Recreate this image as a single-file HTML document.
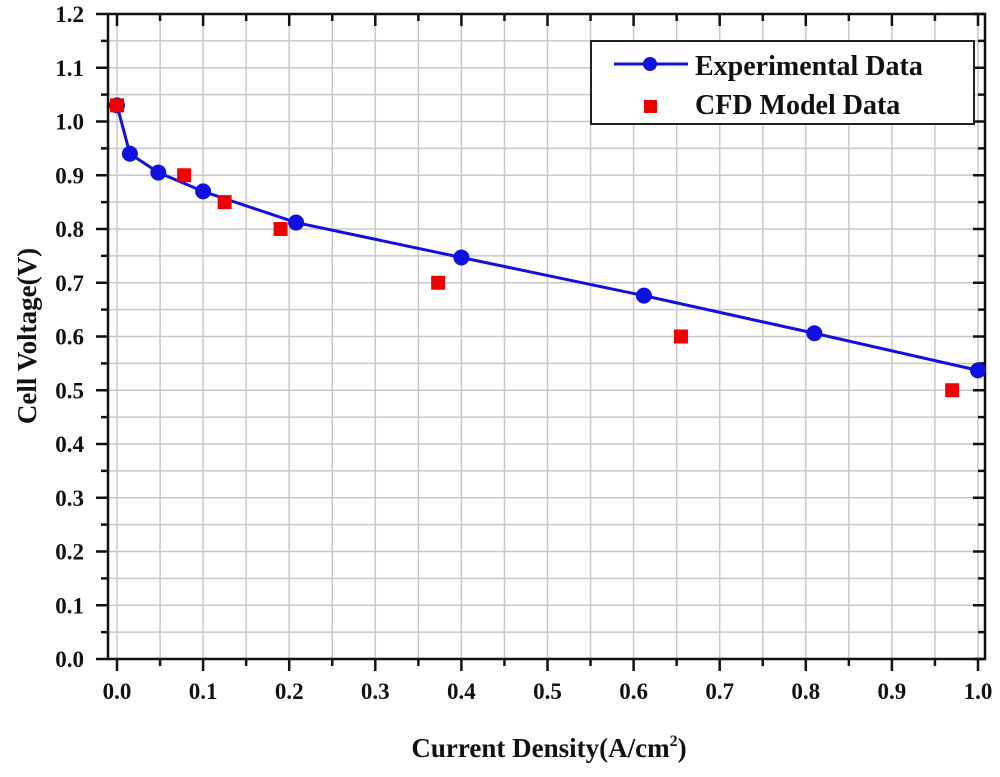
<!DOCTYPE html>
<html><head><meta charset="utf-8"><style>
body{margin:0;background:#fff;}
svg text{font-family:"Liberation Serif",serif;font-weight:bold;fill:#111;}
</style></head><body>
<svg id="chart" width="1000" height="772" viewBox="0 0 1000 772" xmlns="http://www.w3.org/2000/svg">
<g id="grid"></g>
<g id="axes"></g>
<g id="series"></g>
<text x="549" y="757" font-size="27" text-anchor="middle">Current Density(A/cm<tspan dy="-11" font-size="16">2</tspan><tspan dy="11">)</tspan></text>
<text transform="translate(36,336) rotate(-90)" font-size="27" text-anchor="middle">Cell Voltage(V)</text>
<g>
<rect x="591" y="41" width="383" height="83" fill="#fff" stroke="#222" stroke-width="2"/>
<line x1="614" y1="64" x2="688" y2="64" stroke="#1010e0" stroke-width="3"/>
<circle cx="650" cy="64" r="7" fill="#1010e0"/>
<text x="695" y="75" font-size="28">Experimental Data</text>
<rect x="644" y="100" width="13" height="13" fill="#e00"/>
<text x="695" y="114" font-size="28">CFD Model Data</text>
</g>
</svg>
<script>
const expX=[0,0.015,0.048,0.1,0.208,0.4,0.612,0.81,1.0];
const expY=[1.03,0.94,0.905,0.87,0.812,0.747,0.676,0.606,0.537];
const cfdX=[0,0.078,0.125,0.19,0.373,0.655,0.97];
const cfdY=[1.03,0.9,0.85,0.8,0.7,0.6,0.5];
const xTicks=["0.0","0.1","0.2","0.3","0.4","0.5","0.6","0.7","0.8","0.9","1.0"];
const yTicks=["0.0","0.1","0.2","0.3","0.4","0.5","0.6","0.7","0.8","0.9","1.0","1.1","1.2"];
const NS="http://www.w3.org/2000/svg";
const L=108,R=985,T=14,B=659;
const sx=v=>117+v*861;
const sy=v=>B-v/1.2*(B-T);
function mk(p,tag,a){const e=document.createElementNS(NS,tag);for(const k in a)e.setAttribute(k,a[k]);p.appendChild(e);return e;}
const grid=document.getElementById('grid'),axes=document.getElementById('axes'),ser=document.getElementById('series');
for(let i=0;i<=20;i++){const x=sx(i*0.05);
 const g=mk(grid,'line',{x1:x,x2:x,y1:T,y2:B,stroke:'#c8c8c8','stroke-width':1.5});
 
 
 mk(axes,'line',{x1:x,x2:x,y1:B,y2:B+(i%2?7:12),stroke:'#111','stroke-width':2.5});
 mk(axes,'line',{x1:x,x2:x,y1:T,y2:T+(i%2?7:12),stroke:'#111','stroke-width':2.5});
}
for(let i=0;i<=24;i++){const y=sy(i*0.05);
 const g=mk(grid,'line',{x1:L,x2:R,y1:y,y2:y,stroke:'#c8c8c8','stroke-width':1.5});
 
 
 mk(axes,'line',{x1:L-(i%2?7:12),x2:L,y1:y,y2:y,stroke:'#111','stroke-width':2.5});
 mk(axes,'line',{x1:R-(i%2?7:12),x2:R,y1:y,y2:y,stroke:'#111','stroke-width':2.5});
}
const fr=mk(axes,'rect',{x:L,y:T,width:R-L,height:B-T,fill:'none',stroke:'#111','stroke-width':2.5});


xTicks.forEach((t,i)=>{const e=mk(axes,'text',{x:sx(i*0.1),y:699,'font-size':23,'text-anchor':'middle'});e.textContent=t;
 
 });
yTicks.forEach((t,i)=>{const e=mk(axes,'text',{x:84,y:sy(i*0.1)+8,'font-size':23,'text-anchor':'end'});e.textContent=t;
 
 });
const pl=mk(ser,'polyline',{points:expX.map((x,i)=>sx(x)+','+sy(expY[i])).join(' '),fill:'none',stroke:'#1010e0','stroke-width':3});


expX.forEach((x,i)=>{const c=mk(ser,'circle',{cx:sx(x),cy:sy(expY[i]),r:8,fill:'#1010e0'});
 
 });
cfdX.forEach((x,i)=>{const r=mk(ser,'rect',{x:sx(x)-7,y:sy(cfdY[i])-7,width:14,height:14,fill:'#e00'});
 
 });
</script>
</body></html>
